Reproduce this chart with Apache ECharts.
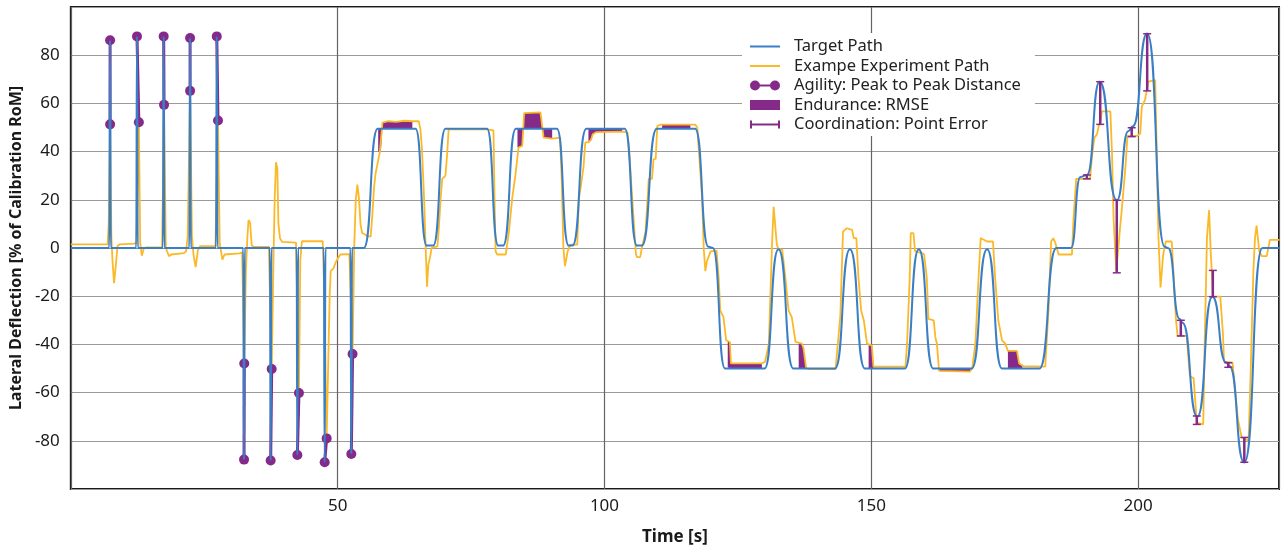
<!DOCTYPE html>
<html>
<head>
<meta charset="utf-8">
<script src="https://cdn.jsdelivr.net/npm/echarts@6/dist/echarts.min.js"></script>
<style>
  html, body { margin: 0; padding: 0; background: #fff; }
  #chart { width: 1284px; height: 551px; }
</style>
</head>
<body>
<div id="chart"></div>
<script>
// target path: [time s, deflection %]
const targetPath = [
  [0, 0], [7.2, 0], [7.35, 86.2], [7.5, 0], [12.25, 0], [12.4, 87.8], [12.55, 0],
  [17.25, 0], [17.4, 87.8], [17.55, 0], [22.2, 0], [22.35, 87.1], [22.5, 0],
  [27.2, 0], [27.35, 87.8], [27.5, 0], [32.3, 0], [32.45, -87.8], [32.6, 0],
  [37.3, 0], [37.45, -88.2], [37.6, 0], [42.3, 0], [42.45, -85.9], [42.6, 0],
  [47.4, 0], [47.57, -88.9], [47.72, 0], [52.4, 0], [52.56, -85.5], [52.7, 0],
  [54.9, 0], [57.5, 49.5], [64.6, 49.5], [66.7, 1], [67.9, 1], [70.2, 49.5],
  [78.0, 49.5], [80.1, 1], [81.0, 1], [83.4, 49.5], [91.1, 49.5], [93.3, 1],
  [94.0, 1], [96.6, 49.5], [103.8, 49.5], [106.1, 1], [107.0, 1], [109.8, 49.5],
  [117.0, 49.5], [119.5, 0.5], [120.3, 0], [122.6, -50], [130.0, -50], [132.6, -0.5],
  [135.4, -50], [143.2, -50], [146.0, -0.5], [148.8, -50], [156.3, -50], [158.9, -0.5],
  [161.6, -50], [168.8, -50], [171.7, -0.5], [174.5, -50], [181.5, -50], [184.7, 0],
  [187.4, 0], [189.2, 29.5], [190.4, 30.3], [192.8, 69], [196.0, 19.8], [198.2, 48.5],
  [199.0, 50.5], [201.7, 89], [205.0, 0.5], [205.6, 0], [207.8, -29.5], [208.3, -31],
  [211.1, -70], [213.9, -20.2], [216.5, -47.5], [217.1, -49], [219.9, -89],
  [223.3, 0], [226.5, 0]
]

// example experiment path: [time s, deflection %]
const experimentPath = [
  [0, 1.5], [6.9, 1.5], [7.1, 10], [7.36, 51.3], [7.6, 5], [7.8, -5], [8.1, -14.6], [8.4, -8],
  [8.75, 0.9], [9.2, 1.5], [11.8, 1.8], [12.3, 2], [12.75, 52.2], [13.0, 2], [13.3, -3.2],
  [13.7, 0], [14.2, 0.3], [17.1, 0.3], [17.47, 59.4], [17.8, 0], [18.4, -3.4], [18.8, -2.7],
  [21.2, -2.1], [21.6, -1.4], [21.9, 5], [22.35, 65.2], [22.7, 5], [23.0, -3], [23.4, -7.9],
  [23.8, -1], [24.2, 0.8], [27.1, 0.8], [27.58, 52.9], [27.9, 2], [28.4, -4.8], [28.8, -2.7],
  [31.6, -2.2], [32.1, -1.8], [32.5, -47.9], [32.8, -10], [33.1, 5], [33.3, 11.6], [33.6, 10.5],
  [33.9, 1], [34.3, 0.5], [37.1, 0.5], [37.64, -50.2], [38.0, -2], [38.2, 20], [38.45, 35.6],
  [38.7, 33], [38.9, 10], [39.2, 4], [39.6, 2.5], [42.2, 2.2], [42.75, -60.2], [43.0, -5],
  [43.3, 2.8], [47.2, 2.8], [47.5, -20], [47.94, -79.0], [48.5, -20], [48.7, -9.6], [49.2, -8.5],
  [49.6, -6.2], [49.9, -4.8], [50.5, -2.7], [52.2, -2.5], [52.8, -44.0], [53.1, 0], [53.4, 20],
  [53.7, 26.3], [54.0, 20.5], [54.3, 9.6], [54.6, 6.2], [55.2, 5.5], [55.6, 4.8], [56.2, 4.8],
  [56.5, 13.7], [56.8, 24.6], [57.1, 30.8], [57.4, 34.2], [57.9, 39.7], [58.2, 40.3], [58.4, 52],
  [59.5, 52.6], [61, 52.3], [62.5, 52.8], [64.0, 52.6], [65.2, 52.6], [65.5, 49.5], [65.8, 41],
  [66.2, 20.5], [66.5, 0], [66.75, -16.1], [67.0, -6.8], [67.3, -4.1], [67.6, 0], [67.8, 0.7],
  [68.7, 0.7], [69.0, 9.6], [69.3, 20.5], [69.6, 28.7], [70.2, 30], [70.5, 38.3], [70.8, 49.2],
  [78.0, 49.2], [79.2, 48.8], [79.4, 20.5], [79.6, -1.4], [79.9, -2.7], [81.5, -2.7], [82.1, 6.8],
  [82.7, 20.5], [83.3, 30], [83.9, 41.7], [84.6, 42.4], [84.95, 56], [88.0, 56.3], [88.6, 45.8],
  [90.2, 45.4], [91.7, 45.8], [92.0, 27.4], [92.3, 0], [92.6, -7.5], [93.1, -1.4], [93.6, 1.4],
  [94.9, 1.4], [95.2, 20.5], [95.6, 26], [96.1, 34.2], [96.4, 43.8], [97.0, 43.8], [97.5, 45],
  [97.8, 47.2], [98.5, 48.1], [103.5, 48.3], [104.3, 48], [104.6, 41], [105.2, 20.5], [105.9, -2.7],
  [106.1, -3.8], [106.7, -3.8], [107.0, 0], [107.7, 6.8], [108.3, 28.7], [108.9, 28.7], [109.2, 36.9],
  [109.6, 37], [109.9, 50.6], [110.5, 51.2], [117.0, 51.2], [117.4, 50], [118.3, 20.5], [118.6, 0],
  [118.9, -9.6], [119.2, -5.5], [119.9, -1.4], [121.0, -1.1], [121.4, -12.3], [121.7, -26],
  [122.3, -28.7], [122.8, -38.3], [123.5, -39], [123.7, -47.9], [129.5, -47.9], [130.1, -47.2],
  [130.8, -39.7], [131.4, 1.4], [131.7, 17.1], [132.0, 16.5], [132.3, 1.4], [132.6, -0.5],
  [133.3, -0.7], [133.9, -12.3], [134.5, -26], [135.1, -28.7], [135.8, -39], [137.0, -39.7],
  [137.3, -41.7], [137.8, -49.9], [138.3, -50.3], [143.3, -50.3], [143.6, -49.9], [144.2, -28],
  [144.7, 6.8], [145.4, 8.2], [146.4, 7.5], [146.7, 4.1], [147.2, 4.1], [147.6, -12.3], [148.1, -26],
  [148.6, -30], [149.2, -39.7], [150.1, -40.5], [150.4, -49.2], [156.4, -49.2], [156.7, -39.7],
  [157.2, -12.3], [157.4, 6.2], [157.9, 6.2], [158.2, -1.4], [159.5, -2.1], [159.9, -2.7],
  [160.4, -12.3], [160.7, -29.4], [161.7, -30], [162.0, -36.9], [162.3, -39.7], [162.7, -51],
  [168.5, -51.3], [168.9, -49.9], [169.5, -39.7], [170.1, -12.3], [170.5, 4.1], [171.0, 3.5],
  [171.7, 2.7], [172.8, 2.7], [173.2, -12.3], [173.8, -30], [174.5, -38.3], [175.1, -39.7],
  [175.6, -42.7], [177.3, -42.7], [177.7, -47.9], [178.5, -49], [182.6, -49.2], [183.2, -26],
  [183.7, 2.7], [184.1, 4.1], [184.5, 2], [185.1, -2.7], [187.6, -2.7], [187.9, 12.3], [188.4, 28.7],
  [191.0, 28.7], [191.3, 36.9], [191.8, 45.8], [192.3, 47.2], [192.6, 50.6], [192.9, 52], [193.2, 56.7],
  [194.8, 56.7], [195.1, 39.7], [195.4, 12.3], [195.9, -9.6], [196.3, 0], [196.6, 8], [196.9, 15],
  [197.6, 32.8], [198.0, 46.5], [199.8, 46.5], [200.4, 47.5], [200.7, 58.8], [201.3, 61.5],
  [201.9, 69], [203.2, 69.7], [203.5, 39.7], [203.8, 5], [204.2, -16.4], [204.7, -2.7], [205.2, 2.7],
  [206.3, 2.7], [206.6, -9.6], [207.1, -30], [207.4, -36.5], [209.1, -36.5], [209.7, -53.3],
  [210.4, -54], [211.0, -72.5], [212.2, -73.2], [212.5, -36.9], [212.9, 4.1], [213.3, 15.7],
  [213.6, -1.4], [213.8, -9.6], [214.0, -20.2], [215.4, -20.2], [215.9, -35.6], [216.1, -47.2],
  [217.7, -47.6], [218.1, -57.4], [218.7, -71.1], [219.4, -78.6], [220.7, -80], [221.1, -50.6],
  [221.6, -9.6], [221.9, 4.1], [222.2, 9.3], [222.7, -1.4], [223.2, -3.4], [224.1, -3.4],
  [224.7, 3.4], [226.5, 3.4]
]

// agility: [t target peak, target peak, t experiment peak, experiment peak]
const agilityPeaks = [
  [7.36, 86.2, 7.36, 51.3], [12.4, 87.8, 12.75, 52.2], [17.4, 87.8, 17.47, 59.4],
  [22.35, 87.1, 22.35, 65.2], [27.35, 87.8, 27.58, 52.9], [32.46, -87.8, 32.5, -47.9],
  [37.45, -88.2, 37.64, -50.2], [42.45, -85.9, 42.75, -60.2], [47.57, -88.9, 47.94, -79.0],
  [52.56, -85.5, 52.8, -44.0]
]

// endurance: each band is a list of [t, target, experiment]
const rmseBands = [
  [[57.6, 49.5, 40], [58.1, 49.5, 40.3], [58.3, 49.5, 46], [58.4, 49.5, 52], [59.5, 49.5, 52.6],
   [61, 49.5, 52.3], [62.5, 49.5, 52.8], [64.0, 49.5, 52.6]],
  [[83.7, 49.5, 41.7], [84.6, 49.5, 42.4], [84.95, 49.5, 56], [88.0, 49.5, 56.3],
   [88.6, 49.5, 45.8], [90.2, 49.5, 45.4]],
  [[97.0, 49.5, 43.8], [97.5, 49.5, 45], [97.8, 49.5, 47.2], [98.5, 49.5, 48.1], [103.3, 49.5, 48.3]],
  [[110.8, 49.5, 51.2], [116.1, 49.5, 51.2]],
  [[123.1, -49.5, -39], [123.5, -50, -39], [123.7, -50, -47.9], [129.5, -50, -47.9]],
  [[136.4, -50, -39.5], [137.0, -50, -39.7], [137.3, -50, -41.7], [137.8, -50, -49.9]],
  [[149.5, -50, -40.3], [150.1, -50, -40.5], [150.4, -50, -49.2]],
  [[162.7, -50, -51], [168.5, -50, -51.3], [168.9, -50, -49.9]],
  [[175.6, -50, -42.7], [177.3, -50, -42.7], [177.7, -50, -47.9], [178.3, -50, -49]]
]

// coordination: [t, target, experiment]
const pointErrors = [
  [190.4, 30.3, 28.7], [192.9, 69, 51.3], [196.0, 19.8, -10.3], [198.8, 49.9, 46.2],
  [201.7, 88.9, 65.2], [208.0, -30, -36.5], [211.0, -69.7, -73.2], [214.0, -20.2, -9.3],
  [216.9, -47.6, -49.5], [219.9, -88.9, -78.6]
]

const BLUE = '#3a7fc6'
const YELLOW = '#fbb928'
const PURPLE = '#852a89'
const FONT = 'Noto Sans'

const chart = echarts.init(document.getElementById('chart'))

const renderBand = (params, api) => {
  const band = rmseBands[params.dataIndex]
  const top = band.map(p => api.coord([p[0], p[1]]))
  const bottom = band.slice().reverse().map(p => api.coord([p[0], p[2]]))
  return { type: 'polygon', shape: { points: top.concat(bottom) }, style: { fill: PURPLE } }
}

const renderAgility = (params, api) => {
  const a = api.coord([api.value(0), api.value(1)])
  const b = api.coord([api.value(2), api.value(3)])
  return {
    type: 'group',
    children: [
      { type: 'line', shape: { x1: a[0], y1: a[1], x2: b[0], y2: b[1] }, style: { stroke: PURPLE, lineWidth: 3 } },
      { type: 'circle', shape: { cx: a[0], cy: a[1], r: 5 }, style: { fill: PURPLE } },
      { type: 'circle', shape: { cx: b[0], cy: b[1], r: 5 }, style: { fill: PURPLE } }
    ]
  }
}

const renderError = (params, api) => {
  const a = api.coord([api.value(0), api.value(1)])
  const b = api.coord([api.value(0), api.value(2)])
  const w = 4
  return {
    type: 'group',
    children: [
      { type: 'line', shape: { x1: a[0], y1: a[1], x2: b[0], y2: b[1] }, style: { stroke: PURPLE, lineWidth: 2.5 } },
      { type: 'line', shape: { x1: a[0] - w, y1: a[1], x2: a[0] + w, y2: a[1] }, style: { stroke: PURPLE, lineWidth: 1.5 } },
      { type: 'line', shape: { x1: b[0] - w, y1: b[1], x2: b[0] + w, y2: b[1] }, style: { stroke: PURPLE, lineWidth: 1.5 } }
    ]
  }
}

const lineIcon = 'path://M0,0 H30 V2 H0 Z'
const agilityIcon = 'path://M5,0 A5,5 0 1 1 5,10 A5,5 0 1 1 5,0 Z M25,0 A5,5 0 1 1 25,10 A5,5 0 1 1 25,0 Z M5,4 H25 V6 H5 Z'
const rectIcon = 'path://M0,0 H30 V10 H0 Z'
const errorIcon = 'path://M0,1 H2 V9 H0 Z M28,1 H30 V9 H28 Z M0,4 H30 V6 H0 Z'

const option = {
  animation: false,
  textStyle: { fontFamily: FONT },
  grid: {
    left: 70, right: 5, top: 7, bottom: 58,
    show: true, borderColor: '#1a1a1a', borderWidth: 2, backgroundColor: 'transparent'
  },
  legend: {
    orient: 'vertical',
    left: 742, top: 33,
    padding: [5, 14, 3, 8],
    itemGap: 2.5, itemWidth: 30, itemHeight: 14,
    backgroundColor: '#fff',
    selectedMode: false,
    textStyle: { fontSize: 16.5, lineHeight: 16, color: '#222', fontFamily: FONT, padding: [0, 0, 0, 9] },
    data: [
      { name: 'Target Path', icon: lineIcon },
      { name: 'Exampe Experiment Path', icon: lineIcon },
      { name: 'Agility: Peak to Peak Distance', icon: agilityIcon },
      { name: 'Endurance: RMSE', icon: rectIcon },
      { name: 'Coordination: Point Error', icon: errorIcon }
    ]
  },
  xAxis: {
    type: 'value', min: 0, max: 226.4, interval: 50,
    name: 'Time [s]', nameLocation: 'middle', nameGap: 40,
    nameTextStyle: { fontSize: 17, fontWeight: 'bold', color: '#1a1a1a', fontFamily: FONT },
    axisLine: { show: false }, axisTick: { show: false },
    axisLabel: {
      fontSize: 17, color: '#1a1a1a', margin: 9, showMaxLabel: false,
      formatter: v => (v > 0 && v % 50 === 0 ? String(v) : '')
    },
    splitLine: { show: true, lineStyle: { color: '#6a6262', width: 1.2 } }
  },
  yAxis: {
    type: 'value', min: -100, max: 100, interval: 20,
    name: 'Lateral Deflection [% of Calibration RoM]', nameLocation: 'middle', nameGap: 44,
    nameTextStyle: { fontSize: 16, fontWeight: 'bold', color: '#1a1a1a', fontFamily: FONT },
    axisLine: { show: false }, axisTick: { show: false },
    axisLabel: {
      fontSize: 17, color: '#1a1a1a', margin: 11,
      formatter: v => (Math.abs(v) === 100 ? '' : String(v))
    },
    splitLine: { show: true, lineStyle: { color: '#9a9a9a', width: 1.2 } }
  },
  series: [
    {
      name: 'Endurance: RMSE', type: 'custom', z: 1, clip: true,
      itemStyle: { color: PURPLE },
      renderItem: renderBand,
      data: rmseBands.map(b => [b[0][0], b[0][1]])
    },
    {
      name: 'Exampe Experiment Path', type: 'line', z: 2,
      showSymbol: false, symbol: 'none',
      lineStyle: { color: YELLOW, width: 1.8 }, itemStyle: { color: YELLOW },
      data: experimentPath
    },
    {
      name: 'Agility: Peak to Peak Distance', type: 'custom', z: 3, clip: true,
      itemStyle: { color: PURPLE },
      renderItem: renderAgility,
      data: agilityPeaks
    },
    {
      name: 'Target Path', type: 'line', z: 4,
      showSymbol: false, symbol: 'none',
      smooth: 0.6, smoothMonotone: 'x',
      lineStyle: { color: BLUE, width: 2 }, itemStyle: { color: BLUE },
      data: targetPath
    },
    {
      name: 'Coordination: Point Error', type: 'custom', z: 5, clip: true,
      itemStyle: { color: PURPLE },
      renderItem: renderError,
      data: pointErrors
    }
  ]
}

chart.setOption(option)
</script>
</body>
</html>
